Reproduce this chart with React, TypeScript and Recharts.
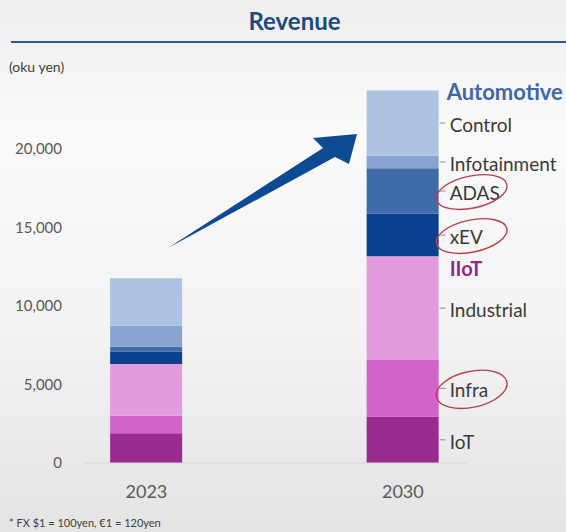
import React from 'react';
import { BarChart, Bar, XAxis, YAxis, LabelList } from 'recharts';

const years = [2023, 2030];
const iot = [1900, 2950];
const infra = [1100, 3600];
const industrial = [3300, 6600];
const xev = [800, 2700];
const adas = [300, 2900];
const infotainment = [1350, 800];
const control = [3000, 4150];
const yTicks = [0, 5000, 10000, 15000, 20000];

const segments = [
  { key: 'IoT', values: iot, color: '#9a2b8f' },
  { key: 'Infra', values: infra, color: '#d163c9' },
  { key: 'Industrial', values: industrial, color: '#e39bdf' },
  { key: 'xEV', values: xev, color: '#0b408f' },
  { key: 'ADAS', values: adas, color: '#3f6ba9' },
  { key: 'Infotainment', values: infotainment, color: '#87a4d0' },
  { key: 'Control', values: control, color: '#adc3e1' },
];

const circled = ['ADAS', 'xEV', 'Infra'];

const data = years.map((year, i) => {
  const row: any = { year };
  segments.forEach((s) => (row[s.key] = s.values[i]));
  return row;
});

const FONT = 'Lato, "Open Sans", sans-serif';

const makeLabel = (name: string) => (props: any) => {
  const { x, y, width, height, index } = props;
  if (index !== years.length - 1) return null;
  const right = Number(x) + Number(width);
  const top = Number(y);
  const mid = top + Number(height) / 2;
  return (
    <g>
      <line x1={right + 1} x2={right + 7} y1={mid} y2={mid} stroke="#8c8c8c" strokeWidth={1} />
      <text x={right + 11} y={mid + 9} fontFamily={FONT} fontSize={19} fill="#3a3a3a">
        {name}
      </text>
      {circled.includes(name) && (
        <ellipse
          cx={right + 33}
          cy={mid + 1}
          rx={36}
          ry={name === 'Infra' ? 18 : 16}
          fill="none"
          stroke="#b7404f"
          strokeWidth={1.4}
          transform={`rotate(-12 ${right + 33} ${mid + 1})`}
        />
      )}
      {name === 'Control' && (
        <text x={right + 8} y={top + 9.5} fontFamily={FONT} fontSize={22} fontWeight="bold" fill="#4067a8">
          Automotive
        </text>
      )}
      {name === 'Industrial' && (
        <text x={right + 11} y={top + 20} fontFamily={FONT} fontSize={20} fontWeight="bold" fill="#8e2b8e">
          IIoT
        </text>
      )}
    </g>
  );
};

export default function App() {
  return (
    <div
      style={{
        position: 'fixed',
        left: 0,
        top: 0,
        width: 566,
        height: 532,
        background: 'linear-gradient(180deg, #efefef 0%, #fafafa 25%, #f4f4f4 60%, #e4e4e4 100%)',
        fontFamily: FONT,
      }}
    >
      <BarChart width={566} height={532} data={data} margin={{ top: 70, right: 99, bottom: 29, left: 0 }}>
        <XAxis
          dataKey="year"
          type="number"
          domain={[2021.27, 2031.75]}
          ticks={years}
          interval={0}
          height={40}
          tickLine={false}
          tickMargin={16}
          axisLine={{ stroke: '#d6d6d6' }}
          tick={{ fontSize: 18, fill: '#595959', fontFamily: FONT }}
        />
        <YAxis
          domain={[0, 25000]}
          ticks={yTicks}
          width={83}
          axisLine={false}
          tickLine={false}
          tickMargin={15}
          tickFormatter={(v) => v.toLocaleString('en-US')}
          tick={{ fontSize: 15, fill: '#595959', fontFamily: FONT }}
        />
        {segments.map((s) => (
          <Bar key={s.key} dataKey={s.key} stackId="rev" fill={s.color} barSize={72} isAnimationActive={false}>
            <LabelList dataKey={s.key} content={makeLabel(s.key)} />
          </Bar>
        ))}
      </BarChart>
      <svg width={566} height={532} style={{ position: 'absolute', left: 0, top: 0, pointerEvents: 'none' }}>
        <text x={294.5} y={30} textAnchor="middle" fontFamily={FONT} fontSize={24} fontWeight="bold" fill="#1f4a80">
          Revenue
        </text>
        <line x1={11} x2={566} y1={42} y2={42} stroke="#2d5a8c" strokeWidth={2} />
        <text x={9} y={72} fontFamily={FONT} fontSize={14} fill="#404040">
          (oku yen)
        </text>
        <polygon points="168,248 323,148 313,138 357,134 349,164 335,157" fill="#0e4a94" />
        <text x={9} y={527} fontFamily={FONT} fontSize={11} fill="#404040">
          * FX $1 = 100yen, €1 = 120yen
        </text>
      </svg>
    </div>
  );
}
